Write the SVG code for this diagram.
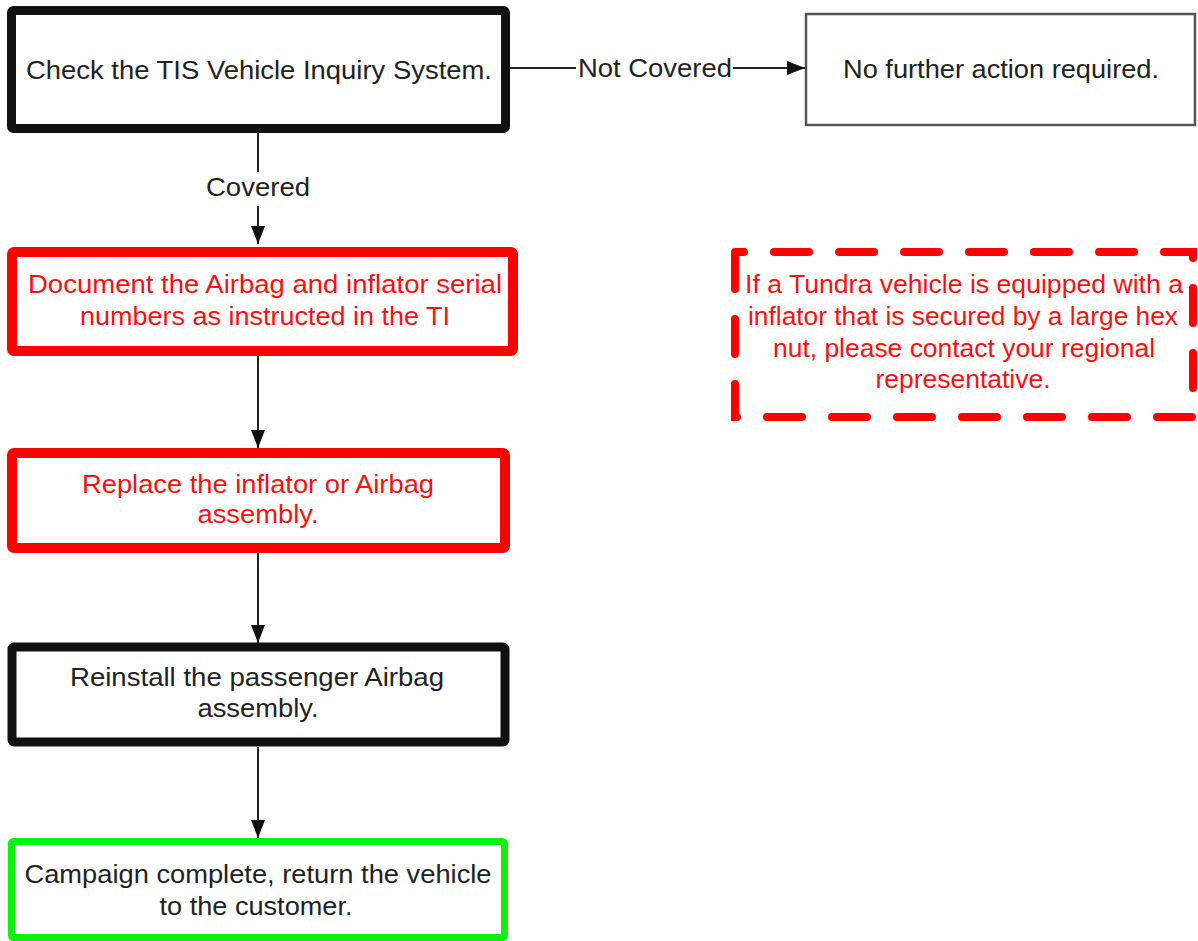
<svg xmlns="http://www.w3.org/2000/svg" width="1198" height="941" viewBox="0 0 1198 941">
<style>
text{font-family:"Liberation Sans",Arial,sans-serif;font-size:26px;text-anchor:middle}
.dk{fill:#222}
.rd{fill:#ff1010}
.blk{fill:#fff;stroke:#111;stroke-width:9;stroke-linejoin:round}
.red{fill:#fff;stroke:#ff0000;stroke-width:10;stroke-linejoin:round}
.grn{fill:#fff;stroke:#11ee11;stroke-width:7;stroke-linejoin:round}
.thin{fill:#fff;stroke:#555;stroke-width:2.5}
.dash{fill:none;stroke:#ff0000;stroke-width:8;stroke-linecap:round;stroke-dasharray:35 30;stroke-dashoffset:26}
.ln{stroke:#222;stroke-width:2;fill:none}
</style>
<defs>
<marker id="ah" markerUnits="userSpaceOnUse" markerWidth="18" markerHeight="14" refX="18" refY="7" orient="auto">
<path d="M0,0 L18,7 L0,14 Z" fill="#111"/>
</marker>
</defs>
<rect width="1198" height="941" fill="#fff"/>
<g id="connectors">
<line class="ln" x1="510" y1="68" x2="576" y2="68"/>
<line class="ln" x1="733" y1="68" x2="805" y2="68" marker-end="url(#ah)"/>
<text class="dk" x="655" y="77" textLength="154" lengthAdjust="spacingAndGlyphs">Not Covered</text>
<line class="ln" x1="258" y1="133" x2="258" y2="172"/>
<line class="ln" x1="258" y1="206" x2="258" y2="244" marker-end="url(#ah)"/>
<text class="dk" x="258" y="196" textLength="104" lengthAdjust="spacingAndGlyphs">Covered</text>
<line class="ln" x1="258" y1="356" x2="258" y2="448" marker-end="url(#ah)"/>
<line class="ln" x1="258" y1="553" x2="258" y2="643" marker-end="url(#ah)"/>
<line class="ln" x1="258" y1="747" x2="258" y2="838" marker-end="url(#ah)"/>
</g>
<g id="check">
<rect class="blk" x="11.5" y="10.5" width="494" height="118" rx="2"/>
<text class="dk" x="259" y="79" textLength="466" lengthAdjust="spacingAndGlyphs">Check the TIS Vehicle Inquiry System.</text>
</g>
<g id="nofurther">
<rect class="thin" x="806" y="14" width="389" height="111"/>
<text class="dk" x="1001" y="78" textLength="316" lengthAdjust="spacingAndGlyphs">No further action required.</text>
</g>
<g id="document">
<rect class="red" x="12" y="252" width="501" height="99" rx="2"/>
<text class="rd" x="265" y="293" textLength="474" lengthAdjust="spacingAndGlyphs">Document the Airbag and inflator serial</text>
<text class="rd" x="265" y="325" textLength="370" lengthAdjust="spacingAndGlyphs">numbers as instructed in the TI</text>
</g>
<g id="note">
<rect class="dash" x="735" y="252" width="458" height="165"/>
<text class="rd" x="964" y="293" textLength="438" lengthAdjust="spacingAndGlyphs">If a Tundra vehicle is equipped with a</text>
<text class="rd" x="963" y="325" textLength="430" lengthAdjust="spacingAndGlyphs">inflator that is secured by a large hex</text>
<text class="rd" x="964" y="357" textLength="382" lengthAdjust="spacingAndGlyphs">nut, please contact your regional</text>
<text class="rd" x="963" y="388" textLength="175" lengthAdjust="spacingAndGlyphs">representative.</text>
</g>
<g id="replace">
<rect class="red" x="12" y="453" width="493" height="95" rx="2"/>
<text class="rd" x="258" y="493" textLength="352" lengthAdjust="spacingAndGlyphs">Replace the inflator or Airbag</text>
<text class="rd" x="258" y="523" textLength="121" lengthAdjust="spacingAndGlyphs">assembly.</text>
</g>
<g id="reinstall">
<rect class="blk" x="12" y="647" width="493" height="95" rx="2"/>
<text class="dk" x="257" y="686" textLength="374" lengthAdjust="spacingAndGlyphs">Reinstall the passenger Airbag</text>
<text class="dk" x="258" y="717" textLength="121" lengthAdjust="spacingAndGlyphs">assembly.</text>
</g>
<g id="campaign">
<rect class="grn" x="11.5" y="841.5" width="493" height="96" rx="2"/>
<text class="dk" x="258" y="883" textLength="467" lengthAdjust="spacingAndGlyphs">Campaign complete, return the vehicle</text>
<text class="dk" x="256" y="915" textLength="193" lengthAdjust="spacingAndGlyphs">to the customer.</text>
</g>
</svg>
